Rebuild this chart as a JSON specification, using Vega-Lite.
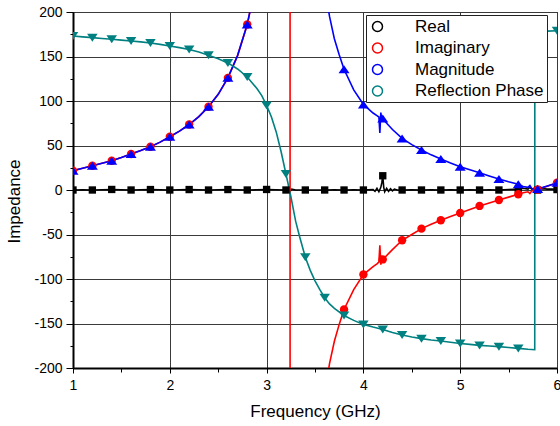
{
  "$schema": "https://vega.github.io/schema/vega-lite/v6.json",
  "width": 484,
  "height": 356,
  "autosize": {"type": "none"},
  "padding": {"left": 73, "top": 12, "right": 3, "bottom": 58},
  "background": "white",
  "config": {"font": "Liberation Sans", "view": {"stroke": "black", "strokeWidth": 1}},
  "data": {"values": [
    {"f":1.0,"m":1,"Real":0,"Imaginary":21.7,"Magnitude":21.7,"Reflection Phase":173},
    {"f":1.1,"m":0,"Real":0.2,"Imaginary":24.4,"Magnitude":24.4,"Reflection Phase":172},
    {"f":1.2,"m":1,"Real":0,"Imaginary":27.3,"Magnitude":27.3,"Reflection Phase":171.2},
    {"f":1.3,"m":0,"Real":0.2,"Imaginary":30,"Magnitude":30,"Reflection Phase":170.3},
    {"f":1.4,"m":1,"Real":0.6,"Imaginary":32.9,"Magnitude":32.9,"Reflection Phase":169.3},
    {"f":1.5,"m":0,"Real":0.2,"Imaginary":36.5,"Magnitude":36.5,"Reflection Phase":168.4},
    {"f":1.6,"m":1,"Real":0,"Imaginary":40.4,"Magnitude":40.4,"Reflection Phase":167.5},
    {"f":1.7,"m":0,"Real":0.2,"Imaginary":44.3,"Magnitude":44.3,"Reflection Phase":166.4},
    {"f":1.8,"m":1,"Real":0.5,"Imaginary":48.6,"Magnitude":48.6,"Reflection Phase":165.2},
    {"f":1.9,"m":0,"Real":0.2,"Imaginary":53.8,"Magnitude":53.8,"Reflection Phase":163.6},
    {"f":2.0,"m":1,"Real":0,"Imaginary":59.8,"Magnitude":59.8,"Reflection Phase":161.8},
    {"f":2.1,"m":0,"Real":0.2,"Imaginary":66.2,"Magnitude":66.2,"Reflection Phase":160},
    {"f":2.2,"m":1,"Real":0.5,"Imaginary":73.6,"Magnitude":73.6,"Reflection Phase":157.8},
    {"f":2.3,"m":0,"Real":0.2,"Imaginary":82.5,"Magnitude":82.5,"Reflection Phase":155},
    {"f":2.4,"m":1,"Real":0,"Imaginary":93.5,"Magnitude":93.5,"Reflection Phase":151.4},
    {"f":2.5,"m":0,"Real":0.2,"Imaginary":107.5,"Magnitude":107.5,"Reflection Phase":147.5},
    {"f":2.6,"m":1,"Real":0.5,"Imaginary":126,"Magnitude":126,"Reflection Phase":142.8},
    {"f":2.7,"m":0,"Real":0.2,"Imaginary":151,"Magnitude":151,"Reflection Phase":136},
    {"f":2.8,"m":1,"Real":0,"Imaginary":186,"Magnitude":186,"Reflection Phase":127},
    {"f":2.85,"m":0,"Imaginary":212,"Magnitude":212},
    {"f":2.9,"m":0,"Real":0.2,"Imaginary":245,"Magnitude":245,"Reflection Phase":114},
    {"f":2.95,"m":0,"Reflection Phase":106},
    {"f":3.0,"m":1,"Real":0.6,"Imaginary":340,"Magnitude":340,"Reflection Phase":95},
    {"f":3.05,"m":0,"Reflection Phase":82},
    {"f":3.1,"m":0,"Real":0.2,"Imaginary":600,"Magnitude":600,"Reflection Phase":65},
    {"f":3.15,"m":0,"Imaginary":1000,"Magnitude":1000,"Reflection Phase":43},
    {"f":3.2,"m":1,"Real":0,"Imaginary":1800,"Magnitude":1800,"Reflection Phase":18},
    {"f":3.22,"m":0,"Real":1,"Reflection Phase":8},
    {"f":3.235,"m":0,"Reflection Phase":0},
    {"f":3.24,"m":0,"Real":-2,"Imaginary":6000,"Magnitude":6000},
    {"f":3.245,"m":0,"Imaginary":-6000,"Magnitude":6000},
    {"f":3.25,"m":0,"Reflection Phase":-7},
    {"f":3.26,"m":0,"Real":1},
    {"f":3.3,"m":0,"Real":0,"Imaginary":-1500,"Magnitude":1500,"Reflection Phase":-35},
    {"f":3.34,"m":0,"Reflection Phase":-52},
    {"f":3.4,"m":1,"Real":0,"Imaginary":-600,"Magnitude":600,"Reflection Phase":-75.5},
    {"f":3.45,"m":0,"Reflection Phase":-90},
    {"f":3.5,"m":0,"Real":0,"Imaginary":-330,"Magnitude":330,"Reflection Phase":-102},
    {"f":3.55,"m":0,"Reflection Phase":-112},
    {"f":3.6,"m":1,"Real":0,"Imaginary":-230,"Magnitude":230,"Reflection Phase":-121},
    {"f":3.65,"m":0,"Imaginary":-195,"Magnitude":195,"Reflection Phase":-128},
    {"f":3.7,"m":0,"Real":0.2,"Imaginary":-170,"Magnitude":170,"Reflection Phase":-133},
    {"f":3.75,"m":0,"Imaginary":-151,"Magnitude":152},
    {"f":3.8,"m":1,"Real":0,"Imaginary":-134.2,"Magnitude":135.7,"Reflection Phase":-141},
    {"f":3.9,"m":0,"Real":0.2,"Imaginary":-112,"Magnitude":112.5,"Reflection Phase":-146.5},
    {"f":4.0,"m":1,"Real":0,"Imaginary":-95,"Magnitude":96.1,"Reflection Phase":-151},
    {"f":4.05,"m":0,"Real":0.3},
    {"f":4.1,"m":0,"Real":0.5,"Imaginary":-86,"Magnitude":86.5,"Reflection Phase":-154},
    {"f":4.12,"m":0,"Real":-1.5},
    {"f":4.14,"m":0,"Real":2,"Imaginary":-83,"Magnitude":83.5},
    {"f":4.16,"m":0,"Real":-2,"Imaginary":-81,"Magnitude":82},
    {"f":4.17,"m":0,"Imaginary":-62,"Magnitude":64},
    {"f":4.18,"m":0,"Real":3,"Imaginary":-84,"Magnitude":87},
    {"f":4.19,"m":0,"Real":8,"Imaginary":-76,"Magnitude":79},
    {"f":4.2,"m":1,"Real":16,"Imaginary":-78,"Magnitude":80.4,"Reflection Phase":-156.7},
    {"f":4.21,"m":0,"Real":3,"Imaginary":-77,"Magnitude":78.5},
    {"f":4.22,"m":0,"Real":-2},
    {"f":4.24,"m":0,"Real":2},
    {"f":4.26,"m":0,"Real":-1.5},
    {"f":4.28,"m":0,"Real":1.5},
    {"f":4.3,"m":0,"Real":-1,"Imaginary":-67,"Magnitude":68,"Reflection Phase":-160},
    {"f":4.32,"m":0,"Real":1},
    {"f":4.35,"m":0,"Real":0},
    {"f":4.4,"m":1,"Real":0,"Imaginary":-56.5,"Magnitude":58,"Reflection Phase":-163},
    {"f":4.5,"m":0,"Real":0.2,"Imaginary":-50,"Magnitude":51,"Reflection Phase":-165.2},
    {"f":4.6,"m":1,"Real":0,"Imaginary":-43.4,"Magnitude":44.9,"Reflection Phase":-167},
    {"f":4.7,"m":0,"Real":0.2,"Imaginary":-38.5,"Magnitude":39.5,"Reflection Phase":-168.5},
    {"f":4.8,"m":1,"Real":0,"Imaginary":-34,"Magnitude":34.8,"Reflection Phase":-169.7},
    {"f":4.9,"m":0,"Real":0.2,"Imaginary":-29.8,"Magnitude":30.3,"Reflection Phase":-171},
    {"f":5.0,"m":1,"Real":0,"Imaginary":-25.8,"Magnitude":26.2,"Reflection Phase":-172.4},
    {"f":5.1,"m":0,"Real":0.2,"Imaginary":-21.8,"Magnitude":22.7,"Reflection Phase":-173.5},
    {"f":5.2,"m":1,"Real":0,"Imaginary":-17.9,"Magnitude":19.4,"Reflection Phase":-174.6},
    {"f":5.3,"m":0,"Real":0.2,"Imaginary":-14.5,"Magnitude":15.8,"Reflection Phase":-175.3},
    {"f":5.4,"m":1,"Real":0,"Imaginary":-11.2,"Magnitude":12.3,"Reflection Phase":-176},
    {"f":5.5,"m":0,"Real":0.5,"Imaginary":-8,"Magnitude":9.2,"Reflection Phase":-177},
    {"f":5.6,"m":1,"Real":1,"Imaginary":-4.8,"Magnitude":6.4,"Reflection Phase":-178},
    {"f":5.65,"m":0,"Real":2,"Imaginary":-3,"Magnitude":4},
    {"f":5.7,"m":0,"Real":1,"Imaginary":-2,"Magnitude":3,"Reflection Phase":-179},
    {"f":5.72,"m":0,"Real":3,"Imaginary":-4,"Magnitude":5},
    {"f":5.74,"m":0,"Real":1,"Imaginary":-1,"Magnitude":1.5},
    {"f":5.77,"m":0,"Real":2,"Imaginary":0,"Magnitude":0.5,"Reflection Phase":-179.5},
    {"f":5.771,"m":0,"Reflection Phase":178},
    {"f":5.8,"m":1,"Real":0,"Imaginary":0.5,"Magnitude":1,"Reflection Phase":178.5},
    {"f":5.85,"m":0,"Real":1.5,"Imaginary":2.5,"Magnitude":2.8},
    {"f":5.9,"m":0,"Real":1,"Imaginary":4.3,"Magnitude":4.5,"Reflection Phase":178.5},
    {"f":5.95,"m":0,"Real":1,"Imaginary":6.2,"Magnitude":6.3},
    {"f":6.0,"m":1,"Real":0.5,"Imaginary":8.2,"Magnitude":8.2,"Reflection Phase":179}
  ]},
  "transform": [
    {"fold": ["Real", "Imaginary", "Magnitude", "Reflection Phase"], "as": ["s", "v"]},
    {"filter": "isValid(datum.v)"}
  ],
  "encoding": {
    "x": {
      "field": "f", "type": "quantitative",
      "scale": {"domain": [1, 6], "nice": false, "zero": false},
      "axis": {
        "title": "Frequency (GHz)",
        "values": [1, 1.5, 2, 2.5, 3, 3.5, 4, 4.5, 5, 5.5, 6],
        "labelExpr": "datum.value % 1 === 0 ? '' + datum.value : ''",
        "labelOverlap": false, "labelFlush": false,
        "tickSize": {"condition": {"test": "datum.value % 1 !== 0", "value": 4}, "value": 5},
        "gridOpacity": {"condition": {"test": "datum.value % 1 !== 0", "value": 0}, "value": 1},
        "gridColor": "#3a3a3a", "gridWidth": 1,
        "tickColor": "black", "domainColor": "black", "domainWidth": 2,
        "labelFontSize": 14, "labelColor": "black", "labelPadding": 5,
        "titleFontSize": 17, "titleFontWeight": "normal", "titleColor": "black", "titlePadding": 11
      }
    },
    "y": {
      "field": "v", "type": "quantitative",
      "scale": {"domain": [-200, 200], "nice": false},
      "axis": {
        "title": "Impedance",
        "values": [-200, -175, -150, -125, -100, -75, -50, -25, 0, 25, 50, 75, 100, 125, 150, 175, 200],
        "labelExpr": "datum.value % 50 === 0 ? '' + datum.value : ''",
        "labelOverlap": false, "labelFlush": false,
        "tickSize": {"condition": {"test": "datum.value % 50 !== 0", "value": 3}, "value": 7},
        "gridOpacity": {"condition": {"test": "datum.value % 50 !== 0", "value": 0}, "value": 1},
        "gridColor": "#3a3a3a", "gridWidth": 1,
        "tickColor": "black", "domainColor": "black", "domainWidth": 2,
        "labelFontSize": 14, "labelColor": "black", "labelPadding": 4,
        "titleFontSize": 17, "titleFontWeight": "normal", "titleColor": "black", "titlePadding": 10,
        "titleY": 189
      }
    }
  },
  "layer": [
    {
      "mark": {"type": "line", "strokeWidth": 1.6, "clip": true},
      "encoding": {
        "color": {
          "field": "s", "type": "nominal",
          "sort": ["Real", "Imaginary", "Magnitude", "Reflection Phase"],
          "scale": {"range": ["#000000", "#ff0000", "#0000ff", "#008080"]},
          "legend": {
            "title": null, "orient": "none", "legendX": 293, "legendY": 3,
            "padding": 3, "strokeColor": "#222", "fillColor": "white",
            "labelFontSize": 17, "labelColor": "black", "labelOffset": 29,
            "symbolSize": 100, "symbolStrokeWidth": 1.5, "rowPadding": 3.5
          }
        }
      }
    },
    {
      "transform": [{"filter": "datum.m == 1 && datum.s == 'Real'"}],
      "mark": {"type": "point", "filled": true, "opacity": 1, "clip": true, "shape": "square", "size": 54, "color": "#000000"}
    },
    {
      "transform": [{"filter": "datum.m == 1 && datum.s == 'Imaginary'"}],
      "mark": {"type": "point", "filled": true, "opacity": 1, "clip": true, "shape": "circle", "size": 70, "color": "#ff0000"}
    },
    {
      "transform": [{"filter": "datum.m == 1 && datum.s == 'Magnitude'"}],
      "mark": {"type": "point", "filled": true, "opacity": 1, "clip": true, "shape": "M0,-0.8L1.1,0.8L-1.1,0.8Z", "size": 100, "color": "#0000ff"}
    },
    {
      "transform": [{"filter": "datum.m == 1 && datum.s == 'Reflection Phase'"}],
      "mark": {"type": "point", "filled": true, "opacity": 1, "clip": true, "shape": "M0,0.8L1.05,-0.8L-1.05,-0.8Z", "size": 100, "color": "#008080"}
    },
    {
      "transform": [{"filter": "datum.m == 99"}],
      "mark": {"type": "point", "filled": false, "opacity": 1, "strokeWidth": 1.5, "clip": true},
      "encoding": {
        "color": {
          "field": "s", "type": "nominal",
          "sort": ["Real", "Imaginary", "Magnitude", "Reflection Phase"],
          "scale": {"range": ["#000000", "#ff0000", "#0000ff", "#008080"]},
          "legend": {
            "title": null, "orient": "none", "legendX": 293, "legendY": 3,
            "padding": 3, "strokeColor": "#222", "fillColor": "white",
            "labelFontSize": 17, "labelColor": "black", "labelOffset": 29,
            "symbolSize": 100, "symbolStrokeWidth": 1.5, "rowPadding": 3.5
          }
        },
        "shape": {
          "field": "s", "type": "nominal",
          "scale": {
            "domain": ["Real", "Imaginary", "Magnitude", "Reflection Phase"],
            "range": [
              "M-1,0H7M2.3,-0.55H3.7M2.3,-0.275H3.7M2.3,0H3.7M2.3,0.275H3.7M2.3,0.55H3.7",
              "M-1,0H7M2.534,-0.65H3.466M2.302,-0.39H3.698M2.211,-0.13H3.789M2.211,0.13H3.789M2.302,0.39H3.698M2.534,0.65H3.466",
              "M-1,0H7M2.8625,-0.6H3.1375M2.684,-0.34H3.316M2.505,-0.08H3.495M2.326,0.18H3.674M2.1475,0.44H3.8525M1.969,0.7H4.031",
              "M-1,0H7M2.8625,0.6H3.1375M2.684,0.34H3.316M2.505,0.08H3.495M2.326,-0.18H3.674M2.1475,-0.44H3.8525M1.969,-0.7H4.031"
            ]
          },
          "legend": null
        }
      }
    }
  ]
}
